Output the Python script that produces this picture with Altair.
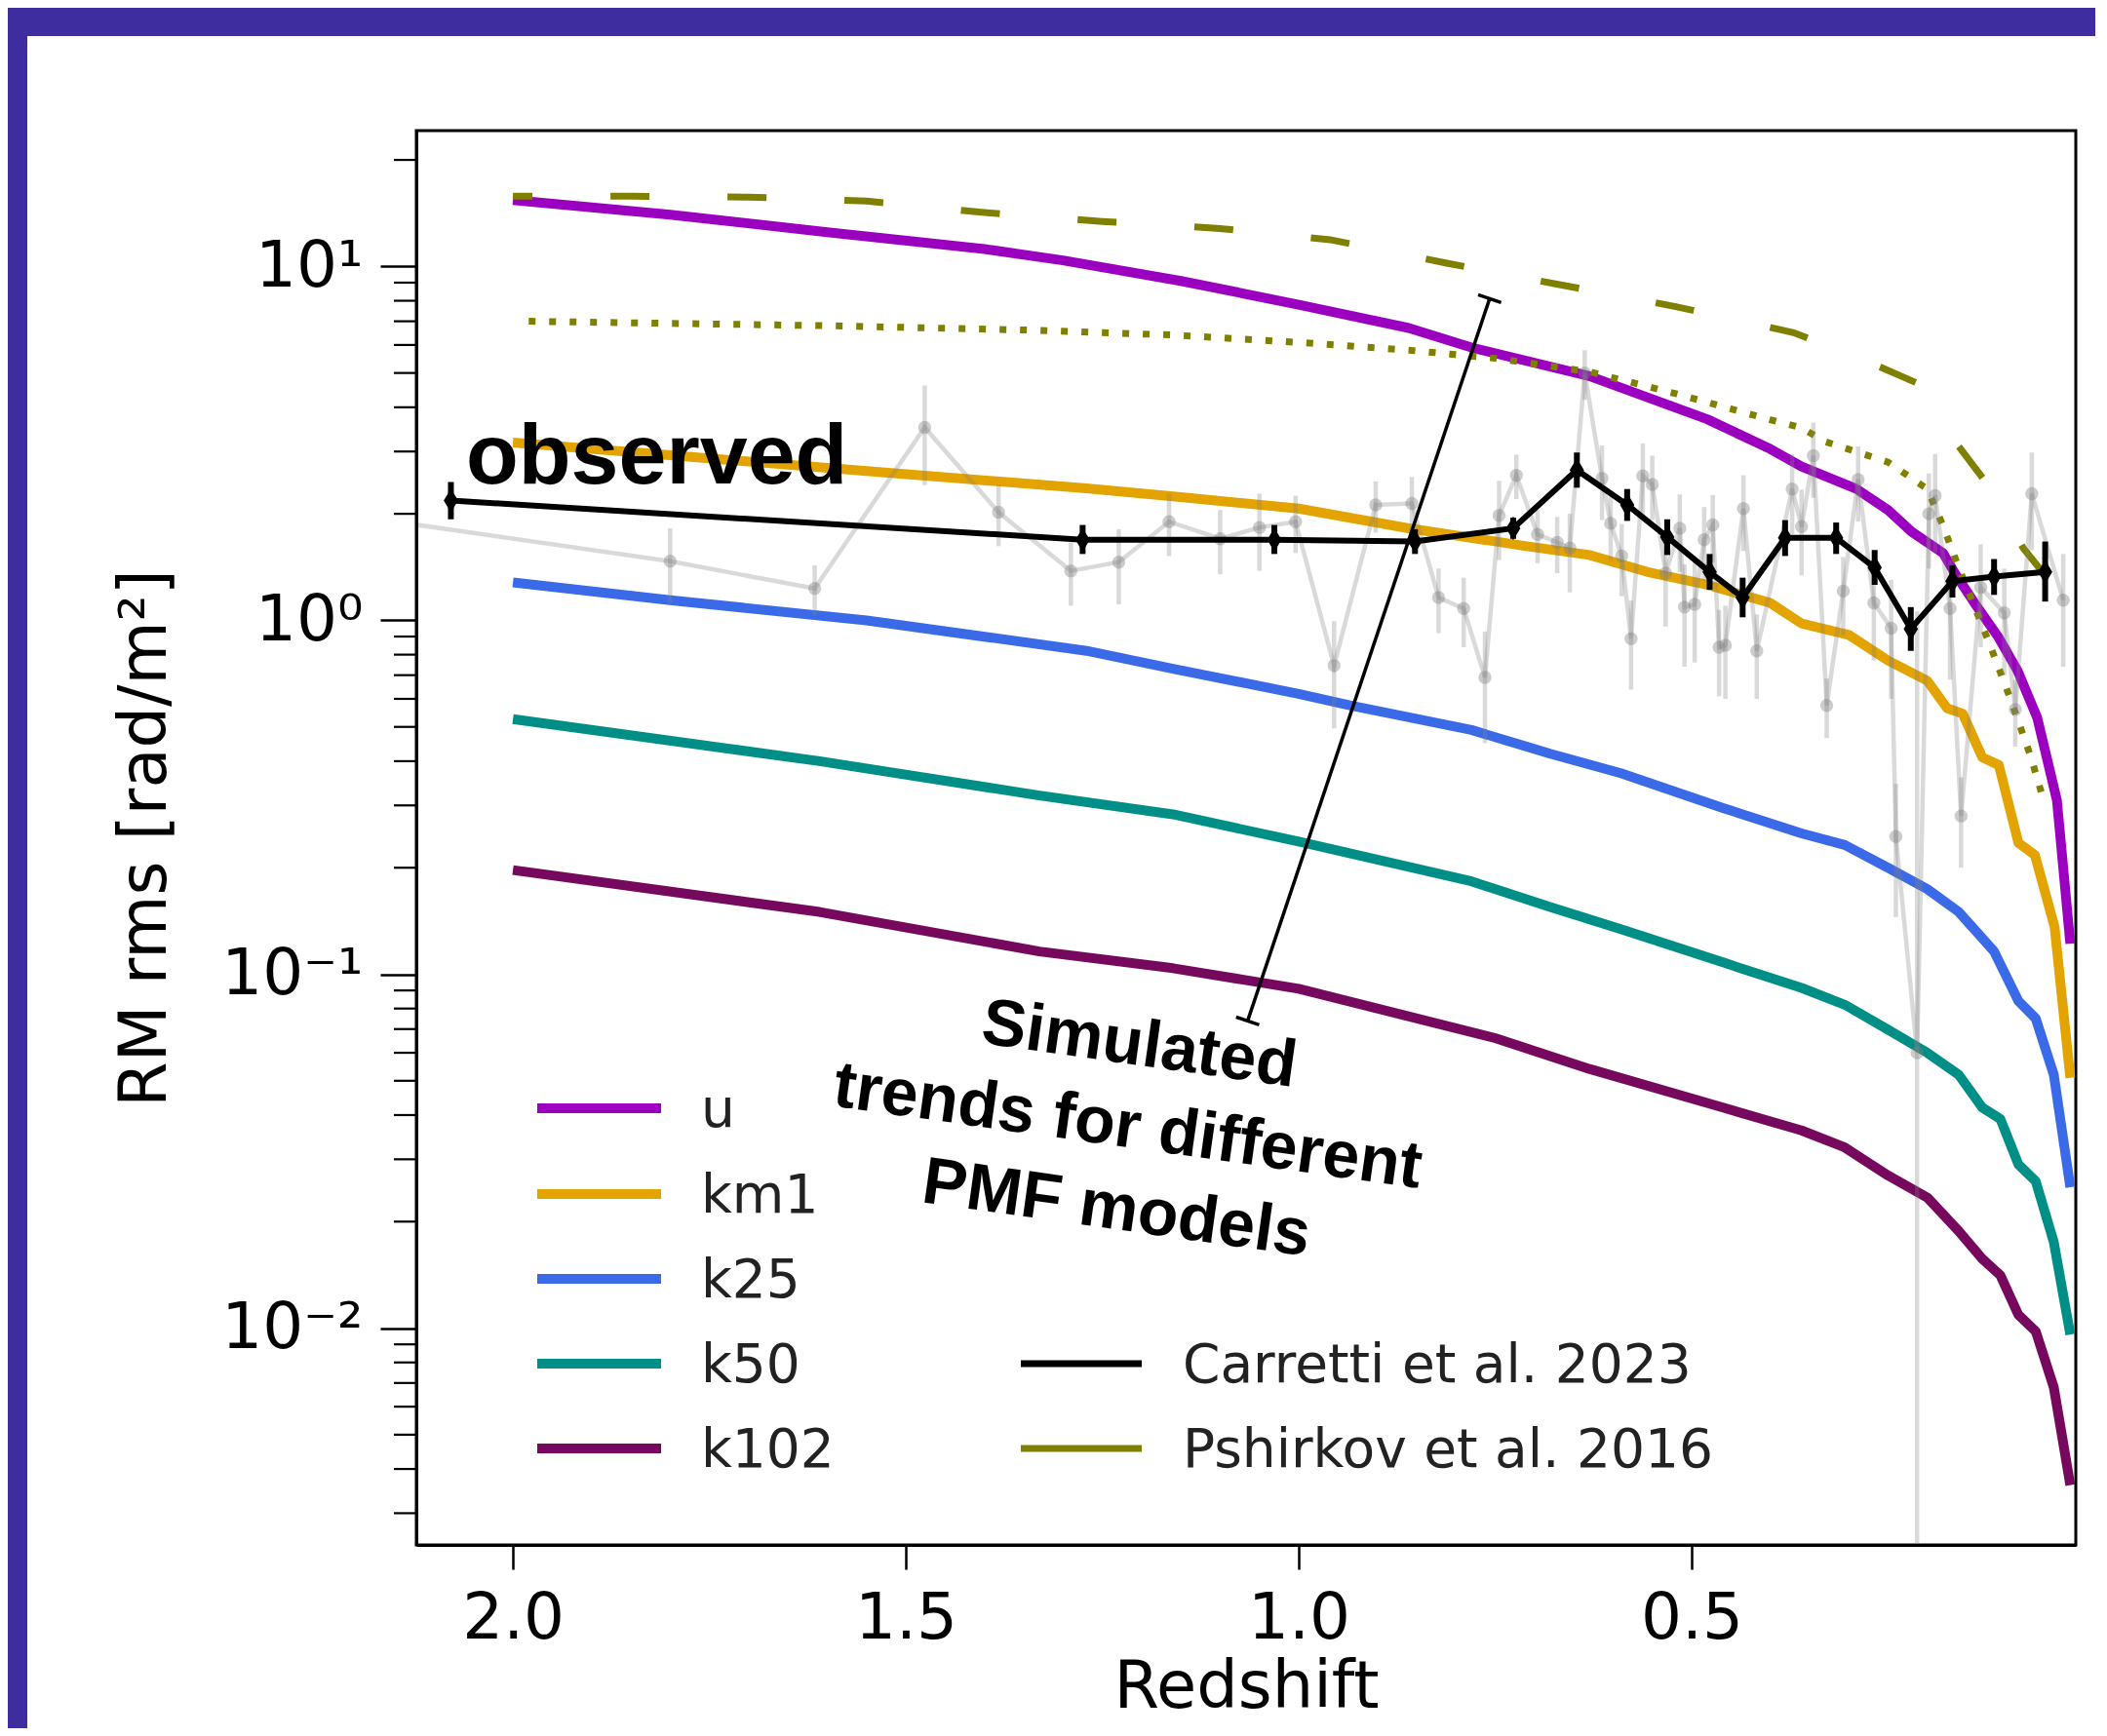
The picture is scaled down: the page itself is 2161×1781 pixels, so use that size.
import altair as alt
import pandas as pd

# ---------------- data ----------------
model_names = ["u", "km1", "k25", "k50", "k102"]
model_colors = ["#9b00c0", "#e3a300", "#3a6ae8", "#008f87", "#76085e"]

u_z = [2.0, 1.8, 1.6, 1.4, 1.3, 1.15, 1.0, 0.86, 0.78, 0.63, 0.48, 0.40, 0.36, 0.29, 0.25, 0.22, 0.18, 0.165, 0.14, 0.11, 0.085, 0.06, 0.035, 0.018]
u_v = [15.4, 14.0, 12.5, 11.2, 10.4, 9.1, 7.8, 6.7, 5.9, 4.9, 3.7, 3.05, 2.72, 2.35, 2.05, 1.78, 1.55, 1.36, 1.12, 0.9, 0.72, 0.53, 0.31, 0.122]

km1_z = [2.0, 1.8, 1.55, 1.27, 1.16, 1.0, 0.86, 0.71, 0.63, 0.556, 0.48, 0.40, 0.36, 0.30, 0.25, 0.2, 0.175, 0.155, 0.13, 0.109, 0.084, 0.063, 0.038, 0.018]
km1_v = [3.18, 2.93, 2.64, 2.36, 2.24, 2.07, 1.82, 1.62, 1.53, 1.37, 1.26, 1.12, 0.98, 0.91, 0.77, 0.675, 0.565, 0.545, 0.41, 0.39, 0.235, 0.217, 0.136, 0.051]

k25_z = [2.0, 1.8, 1.55, 1.27, 1.16, 1.0, 0.935, 0.78, 0.68, 0.59, 0.46, 0.36, 0.305, 0.25, 0.2, 0.16, 0.115, 0.084, 0.062, 0.039, 0.018]
k25_v = [1.28, 1.14, 1.0, 0.82, 0.73, 0.62, 0.575, 0.49, 0.42, 0.37, 0.295, 0.25, 0.232, 0.2, 0.174, 0.15, 0.116, 0.084, 0.075, 0.052, 0.025]

k50_z = [2.0, 1.61, 1.33, 1.16, 1.0, 0.78, 0.68, 0.59, 0.46, 0.36, 0.305, 0.25, 0.2, 0.16, 0.13, 0.107, 0.084, 0.062, 0.039, 0.018]
k50_v = [0.526, 0.40, 0.32, 0.283, 0.237, 0.183, 0.155, 0.134, 0.108, 0.0915, 0.082, 0.0697, 0.06, 0.052, 0.042, 0.039, 0.029, 0.026, 0.0175, 0.0096]

k102_z = [2.0, 1.61, 1.33, 1.16, 1.0, 0.75, 0.63, 0.46, 0.36, 0.305, 0.25, 0.2, 0.16, 0.13, 0.107, 0.084, 0.062, 0.039, 0.018]
k102_v = [0.197, 0.15, 0.116, 0.104, 0.091, 0.066, 0.054, 0.042, 0.0362, 0.0324, 0.027, 0.0234, 0.0188, 0.0157, 0.0141, 0.0109, 0.0098, 0.0068, 0.0036]

pshirkov_z = [2.0, 1.85, 1.7, 1.55, 1.4, 1.25, 1.1, 0.96, 0.81, 0.67, 0.52, 0.37, 0.26, 0.21, 0.16, 0.128, 0.078, 0.05]
pshirkov_v = [15.8, 15.8, 15.7, 15.3, 14.2, 13.4, 12.8, 11.9, 10.2, 8.9, 7.7, 6.5, 5.2, 4.65, 3.1, 2.5, 1.6, 1.34]

dotted_z = [1.98, 1.6, 1.33, 1.16, 1.0, 0.86, 0.75, 0.63, 0.52, 0.40, 0.36, 0.33, 0.25, 0.2, 0.18, 0.16, 0.12, 0.093, 0.068, 0.051]
dotted_v = [7.0, 6.8, 6.6, 6.4, 6.1, 5.8, 5.5, 5.04, 4.37, 3.69, 3.5, 3.2, 2.8, 2.35, 1.85, 1.41, 0.85, 0.59, 0.41, 0.305]

grey_z = [2.30, 1.80, 1.616, 1.476, 1.382, 1.29, 1.229, 1.165, 1.10, 1.05, 1.004, 0.955, 0.902, 0.856,
          0.822, 0.79, 0.763, 0.745, 0.723, 0.696, 0.671, 0.655, 0.636, 0.614, 0.603, 0.589, 0.577,
          0.562, 0.55, 0.533, 0.515, 0.509, 0.496, 0.484, 0.473, 0.465, 0.457, 0.434, 0.417, 0.372,
          0.36, 0.345, 0.328, 0.307, 0.288, 0.268, 0.246, 0.24, 0.213, 0.198, 0.19, 0.171, 0.157,
          0.132, 0.102, 0.088, 0.067, 0.027]
grey_v = [2.12, 1.47, 1.23, 3.51, 2.02, 1.38, 1.46, 1.90, 1.70, 1.83, 1.90, 0.745, 2.12, 2.14,
          1.16, 1.08, 0.69, 1.98, 2.57, 1.75, 1.66, 1.6, 5.0, 2.52, 1.88, 1.52, 0.887,
          2.56, 2.42, 1.36, 1.82, 1.09, 1.11, 1.69, 1.86, 0.84, 0.85, 2.07, 0.82, 2.35,
          1.84, 2.92, 0.575, 1.21, 2.5, 1.12, 0.95, 0.245, 0.06, 2.0, 2.25, 1.08, 0.28,
          1.24, 1.05, 0.56, 2.28, 1.14]
grey_err = [0.5, 0.35, 0.2, 1.1, 0.4, 0.28, 0.35, 0.38, 0.35, 0.45, 0.35, 0.25, 0.35, 0.4,
            0.24, 0.24, 0.24, 0.5, 0.37, 0.3, 0.3, 0.4, 0.8, 0.6, 0.4, 0.35, 0.25,
            0.6, 0.5, 0.4, 0.45, 0.35, 0.35, 0.4, 0.4, 0.23, 0.25, 0.5, 0.22, 0.6,
            0.5, 0.7, 0.11, 0.3, 0.6, 0.35, 0.35, 0.1, 1.0, 0.6, 0.7, 0.4, 0.08,
            0.4, 0.35, 0.12, 0.7, 0.4]

carretti_z = [2.079, 1.275, 1.031, 0.852, 0.727, 0.646, 0.582, 0.531, 0.477, 0.435, 0.381, 0.316, 0.267, 0.221, 0.168, 0.115, 0.050]
carretti_v = [2.18, 1.69, 1.69, 1.67, 1.82, 2.66, 2.12, 1.72, 1.37, 1.16, 1.71, 1.71, 1.41, 0.946, 1.29, 1.33, 1.37]
carretti_lo = [1.93, 1.54, 1.54, 1.54, 1.70, 2.37, 1.91, 1.53, 1.22, 1.02, 1.52, 1.54, 1.26, 0.82, 1.16, 1.18, 1.13]
carretti_hi = [2.46, 1.86, 1.86, 1.81, 1.95, 2.98, 2.35, 1.93, 1.54, 1.32, 1.92, 1.89, 1.58, 1.09, 1.43, 1.49, 1.67]

x_ticks = [0.5, 1.0, 1.5, 2.0]
y_ticks = [0.01, 0.1, 1, 10]
y_minor = [0.003, 0.004, 0.005, 0.006, 0.007, 0.008, 0.009,
           0.02, 0.03, 0.04, 0.05, 0.06, 0.07, 0.08, 0.09,
           0.2, 0.3, 0.4, 0.5, 0.6, 0.7, 0.8, 0.9,
           2, 3, 4, 5, 6, 7, 8, 9, 20]

legend_models = model_names
legend_refs = ["Carretti et al. 2023", "Pshirkov et al. 2016"]
legend_ref_colors = ["black", "#808000"]

annot_z = [0.757, 1.065]
annot_v = [8.11, 0.0738]

# ---------------- styling ----------------
W, H = 1702, 1451
PAD = {"left": 419, "top": 126, "right": 20, "bottom": 188}
PURPLE = "#3e2d9e"
OLIVE = "#808000"
FONT = "DejaVu Sans"
BOLD = "Liberation Sans"
THIN_DIAMOND = "M0,-1L0.6,0L0,1L-0.6,0Z"

X_SCALE = alt.Scale(domain=[0.011, 2.123], reverse=True, nice=False, zero=False)
Y_SCALE = alt.Scale(type="log", domain=[0.00244, 24.2], nice=False)

x_axis = alt.Axis(values=x_ticks, format=".1f", title="Redshift", grid=False,
                  tickSize=25, tickWidth=2.5, tickColor="black",
                  domainColor="black", domainWidth=3,
                  labelFont=FONT, labelFontSize=66, labelColor="black", labelPadding=18,
                  labelFlush=False,
                  titleFont=FONT, titleFontSize=67, titleFontWeight="normal", titleColor="black",
                  titleBaseline="alphabetic", titleY=166, zindex=1)
y_axis = alt.Axis(values=y_ticks, title="RM rms [rad/m²]", grid=False,
                  labelExpr="datum.value > 5 ? '10¹' : datum.value > 0.5 ? '10⁰' : datum.value > 0.05 ? '10⁻¹' : '10⁻²'",
                  tickSize=37, tickWidth=2.5, tickColor="black",
                  domainColor="black", domainWidth=3,
                  labelFont=FONT, labelFontSize=66, labelColor="black", labelPadding=18,
                  labelFlush=False,
                  titleFont=FONT, titleFontSize=67, titleFontWeight="normal", titleColor="black",
                  titleAngle=-90, titleX=-278, titleY=H / 2, titleAlign="center", titleBaseline="middle",
                  zindex=1)


def X(f):
    return alt.X(f"{f}:Q", scale=X_SCALE, axis=x_axis)


def Y(f):
    return alt.Y(f"{f}:Q", scale=Y_SCALE, axis=y_axis)


one = pd.DataFrame({"a": [0]})

# slide border strips
strip_left = alt.Chart(one).mark_rect(color=PURPLE).encode(
    x=alt.value(-PAD["left"]), x2=alt.value(-399), y=alt.value(-PAD["top"]), y2=alt.value(H + PAD["bottom"]))
strip_top = alt.Chart(one).mark_rect(color=PURPLE).encode(
    x=alt.value(-PAD["left"]), x2=alt.value(W + PAD["right"]), y=alt.value(-PAD["top"]), y2=alt.value(-97))

# minor ticks
minor = alt.Chart(pd.DataFrame({"t": y_minor})).mark_rule(color="black", strokeWidth=2.2).encode(
    y=Y("t"), x=alt.value(-23), x2=alt.value(0))

# model curves
rows = []
for name, zs, vs in [("u", u_z, u_v), ("km1", km1_z, km1_v), ("k25", k25_z, k25_v),
                     ("k50", k50_z, k50_v), ("k102", k102_z, k102_v)]:
    for a, b in zip(zs, vs):
        rows.append({"model": name, "z": a, "v": b})
df_models = pd.DataFrame(rows)
models = alt.Chart(df_models).mark_line(strokeWidth=10, clip=True, strokeJoin="round").encode(
    x=X("z"), y=Y("v"),
    color=alt.Color("model:N", scale=alt.Scale(domain=model_names, range=model_colors), legend=None),
    detail="model:N")

pshirkov = alt.Chart(pd.DataFrame({"z": pshirkov_z, "v": pshirkov_v})).mark_line(
    color=OLIVE, strokeWidth=7, strokeDash=[40, 80], strokeDashOffset=20, clip=True).encode(x=X("z"), y=Y("v"))
dotted = alt.Chart(pd.DataFrame({"z": dotted_z, "v": dotted_v})).mark_line(
    color=OLIVE, strokeWidth=7, strokeDash=[7, 14], clip=True).encode(x=X("z"), y=Y("v"))

# grey individual measurements
df_grey = pd.DataFrame({"z": grey_z, "v": grey_v, "e": grey_err})
df_grey["lo"] = (df_grey["v"] - df_grey["e"]).clip(lower=1e-4)
df_grey["hi"] = df_grey["v"] + df_grey["e"]
grey_err_l = alt.Chart(df_grey).mark_rule(color="#808080", opacity=0.3, strokeWidth=4.5, clip=True).encode(
    x=X("z"), y=Y("lo"), y2="hi:Q")
grey_line = alt.Chart(df_grey).mark_line(color="#808080", opacity=0.3, strokeWidth=4.5, clip=True).encode(
    x=X("z"), y=Y("v"))
grey_pts = alt.Chart(df_grey).mark_point(shape="circle", filled=True, size=180, color="#808080",
                                         opacity=0.4, clip=True).encode(x=X("z"), y=Y("v"))

# Carretti et al. 2023
df_c = pd.DataFrame({"z": carretti_z, "v": carretti_v, "lo": carretti_lo, "hi": carretti_hi})
c_err = alt.Chart(df_c).mark_rule(color="black", strokeWidth=6).encode(x=X("z"), y=Y("lo"), y2="hi:Q")
c_line = alt.Chart(df_c).mark_line(color="black", strokeWidth=6).encode(x=X("z"), y=Y("v"))
c_pts = alt.Chart(df_c).mark_point(shape=THIN_DIAMOND, filled=True, size=600, color="black", opacity=1).encode(
    x=X("z"), y=Y("v"))

# annotations
df_ann = pd.DataFrame({"z": [annot_z[0]], "v": [annot_v[0]], "z2": [annot_z[1]], "v2": [annot_v[1]]})
ann_line = alt.Chart(df_ann).mark_rule(color="black", strokeWidth=3.5).encode(
    x=X("z"), y=Y("v"), x2="z2:Q", y2="v2:Q")
ann_caps = alt.Chart(pd.DataFrame({"z": annot_z, "v": annot_v})).mark_point(
    shape="stroke", angle=18.5, size=620, strokeWidth=3.5, color="black", opacity=1).encode(x=X("z"), y=Y("v"))

observed = alt.Chart(pd.DataFrame({"z": [2.0596], "v": [2.431]})).mark_text(
    text="observed", font=BOLD, fontWeight="bold", fontSize=88, align="left", baseline="alphabetic",
    color="black").encode(x=X("z"), y=Y("v"))
simulated = alt.Chart(pd.DataFrame({"z": [1.2029], "v": [0.0629]})).mark_text(
    text=["Simulated", "trends for different", "PMF models"], font=BOLD, fontWeight="bold", fontSize=68,
    lineHeight=85, align="center", baseline="middle", angle=8, color="black").encode(x=X("z"), y=Y("v"))

# manual legend
legend_layers = []
row_y = [1003, 1091, 1178, 1265, 1352]
for i, (name, col) in enumerate(zip(legend_models, model_colors)):
    legend_layers.append(alt.Chart(one).mark_rule(color=col, strokeWidth=10).encode(
        x=alt.value(124), x2=alt.value(251), y=alt.value(row_y[i])))
    legend_layers.append(alt.Chart(one).mark_text(text=name, font=FONT, fontSize=55, align="left",
                                                  baseline="middle", color="#222222").encode(
        x=alt.value(292), y=alt.value(row_y[i] + 2)))
for j, (name, col) in enumerate(zip(legend_refs, legend_ref_colors)):
    yy = row_y[3 + j]
    legend_layers.append(alt.Chart(one).mark_rule(color=col, strokeWidth=7).encode(
        x=alt.value(620), x2=alt.value(744), y=alt.value(yy)))
    legend_layers.append(alt.Chart(one).mark_text(text=name, font=FONT, fontSize=55, align="left",
                                                  baseline="middle", color="#222222").encode(
        x=alt.value(786), y=alt.value(yy + 2)))

chart = alt.layer(
    strip_left, strip_top, minor, models, pshirkov, dotted,
    grey_err_l, grey_line, grey_pts, c_err, c_line, c_pts,
    ann_line, ann_caps, observed, simulated, *legend_layers
).properties(
    width=W, height=H,
    autosize=alt.AutoSizeParams(type="none"),
    padding=PAD,
).configure(background="white").configure_view(stroke="black", strokeWidth=3)

chart.save("out.html", embed_options={"renderer": "svg", "actions": False})
